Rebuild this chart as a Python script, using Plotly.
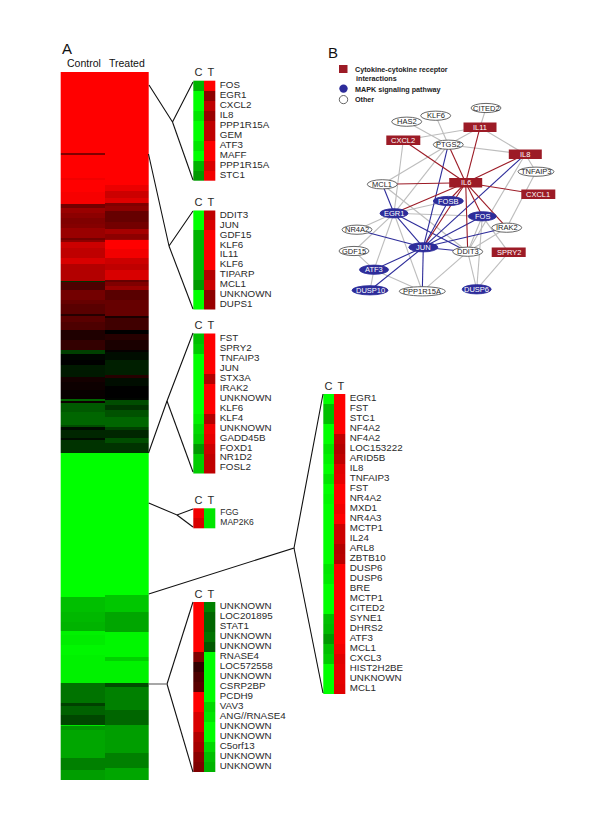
import plotly.graph_objects as go
import numpy as np

# ---------- main heat map: band end (pixel row) and log-ratio value ----------
MAIN_TOP = 72
CTRL_STOPS = [153,155,178,180,192,204,208,213,218,224,228,238,240,242,248,258,264,281,282,290,300,304,314,316,322,330,340,350,354,360,365,377,382,390,399,401,403,412,425,427,430,438,440,453,
              597,612,622,631,635,645,655,683,703,706,715,725,726,730,758,770,780]
CTRL_VALS  = [1,.5,1,.95,1,.97,.45,.6,.55,.5,.52,.6,.45,.55,.8,.75,.85,.7,-.2,.3,.45,.4,.35,.15,.35,.3,.12,.2,-.25,-.02,0,-.1,.08,.05,.03,-.4,.05,-.35,-.4,-.3,-.05,-.15,-.05,-.2,
              -1,-.75,-.72,-.7,-.95,-.93,-.97,-.95,-.45,-.25,-.38,-.28,-.9,-.6,-.65,-.5,-.62]
TRT_STOPS  = [185,191,198,203,206,211,222,229,234,239,240,249,258,264,270,280,282,286,290,300,316,318,330,334,340,350,352,360,375,378,386,398,400,405,410,417,427,430,438,443,453,
              595,612,632,657,661,683,687,700,710,725,753,768,780]
TRT_VALS   = [1,.92,.8,.88,.5,.55,.4,.45,.65,.55,.6,1,.95,.8,.75,.85,.4,.5,.6,.35,.4,.1,.25,0,.15,.1,.02,-.05,-.12,.15,-.05,0,-.02,-.3,-.2,-.32,-.4,-.25,-.15,-.3,-.2,
              -1,-.78,-.65,-.97,-.82,-.95,-.3,-.5,-.5,-.4,-.62,-.5,-.65]

# ---------- detail clusters ----------
G1 = ["FOS","EGR1","CXCL2","IL8","PPP1R15A","GEM","ATF3","MAFF","PPP1R15A","STC1"]
G1_C = [-.7,-1,-1,-.9,-1,-1,-.9,-1,-.7,-.6]
G1_T = [1,.55,.75,.6,.75,.75,1,1,.85,.95]
G2 = ["DDIT3","JUN","GDF15","KLF6","IL11","KLF6","TIPARP","MCL1","UNKNOWN","DUPS1"]
G2_C = [-1,-1,-.7,-.7,-.72,-.7,-.7,-.6,-1,-1]
G2_T = [.75,.85,1,1,1,1,.7,.8,.55,.6]
G3 = ["FST","SPRY2","TNFAIP3","JUN","STX3A","IRAK2","UNKNOWN","KLF6","KLF4","UNKNOWN","GADD45B","FOXD1","NR1D2","FOSL2"]
G3_C = [-.75,-.8,-1,-1,-1,-1,-1,-1,-.95,-.85,-.8,-.6,-.8,-.8]
G3_T = [1,1,1,1,.7,1,1,1,.7,.95,.9,.8,.75,.75]
G4 = ["FGG","MAP2K6"]
G4_C = [.95,.85]
G4_T = [-.9,-.9]
G5 = ["UNKNOWN","LOC201895","STAT1","UNKNOWN","UNKNOWN","RNASE4","LOC572558","UNKNOWN","CSRP2BP","PCDH9","VAV3","ANG//RNASE4","UNKNOWN","UNKNOWN","C5orf13","UNKNOWN","UNKNOWN"]
G5_C = [1,1,1,1,1,.5,.2,.3,.35,1,1,.85,.85,.7,.65,.55,.5]
G5_T = [-.5,-.4,-.4,-.45,-.35,-1,-1,-1,-1,-1,-.85,-.9,-1,-1,-.85,-.75,-.7]
G6 = ["EGR1","FST","STC1","NF4A2","NF4A2","LOC153222","ARID5B","IL8","TNFAIP3","FST","NR4A2","MXD1","NR4A3","MCTP1","IL24","ARL8","ZBTB10","DUSP6","DUSP6","BRE","MCTP1","CITED2","SYNE1","DHRS2","ATF3","MCL1","CXCL3","HIST2H2BE","UNKNOWN","MCL1"]
G6_C = [-1,-.75,-.75,-1,-1,-.9,-.95,-1,-.9,-1,-.97,-1,-1,-1,-1,-1,-1,-.9,-.92,-1,-1,-1,-.75,-.72,-.6,-.75,-.8,-1,-1,-1]
G6_T = [1,1,1,1,.75,.7,.75,.88,.9,1,1,.95,1,.8,.8,.7,.72,1,1,1,1,1,1,1,1,.95,.88,.9,.9,.88]

CLUSTERS = [  # genes, control, treated, left, top, bottom
    (G1,G1_C,G1_T,193.3,80.7,180.7),
    (G2,G2_C,G2_T,193.3,210.5,309.5),
    (G3,G3_C,G3_T,193.3,333.5,473),
    (G4,G4_C,G4_T,193.3,508.3,528.3),
    (G5,G5_C,G5_T,193.3,602,772),
    (G6,G6_C,G6_T,323.3,394,693.5),
]
BRACKETS = [
    [(149,85),(172.5,122),(193,82)], [(172.5,122),(193,180)],
    [(148.5,154),(169,246),(193,211)], [(169,246),(193,309)],
    [(148.5,453),(167,401),(193,333)], [(167,401),(193,472)],
    [(148.7,503),(177,515),(193,509)], [(177,515),(193,527)],
    [(148.7,594),(294,548),(323,394)], [(294,548),(323,693)],
    [(167,684),(193,602)], [(167,684),(193,772)],
]

# ---------- network ----------
NODES = {  # name: (x, y, half-width, kind)
 "CITED2":(486,108,15,"o"),"KLF6":(435.7,115.7,15,"o"),"HAS2":(406.7,121.7,15,"o"),"IL11":(480,127.3,16.5,"r"),
 "CXCL2":(403.3,140.3,17,"r"),"PTGS2":(448.3,144.7,15,"o"),"IL8":(525.3,154.3,16.5,"r"),"TNFAIP3":(536,171.7,18,"o"),
 "MCL1":(382.3,184.3,15,"o"),"IL6":(465.7,182.7,16.5,"r"),"CXCL1":(538.3,194.3,17,"r"),"FOSB":(448.3,201,15,"b"),
 "EGR1":(394,213.3,14,"b"),"FOS":(482.3,216.3,14,"b"),"NR4A2":(357,229.7,15,"o"),"IRAK2":(506.7,227.7,15,"o"),
 "JUN":(423.3,247.3,14.5,"b"),"GDF15":(354,251,15,"o"),"DDIT3":(467.7,251.7,15,"o"),"SPRY2":(508.7,252.3,17,"r"),
 "ATF3":(374,269.7,14.5,"b"),"DUSP10":(370,290.3,18,"b"),"PPP1R15A":(422.3,291.3,23,"o"),"DUSP6":(476.7,289.3,14.5,"b"),
}
GRAY_EDGES = [("CITED2","IL11"),("KLF6","PTGS2"),("HAS2","PTGS2"),("CXCL2","IL11"),("IL11","IL8"),("PTGS2","IL8"),("PTGS2","IL11"),
 ("CXCL2","EGR1"),("PTGS2","MCL1"),("PTGS2","EGR1"),("IL8","TNFAIP3"),("TNFAIP3","IRAK2"),("SPRY2","DUSP6"),("FOS","DUSP6"),
 ("FOS","SPRY2"),("DDIT3","DUSP6"),("IRAK2","DDIT3"),("FOS","DDIT3"),("MCL1","DDIT3"),("IL8","DDIT3"),("EGR1","FOS"),
 ("EGR1","NR4A2"),("EGR1","GDF15"),("EGR1","ATF3"),("EGR1","PPP1R15A"),("GDF15","ATF3"),("ATF3","DUSP10"),("ATF3","PPP1R15A"),
 ("DDIT3","PPP1R15A"),("EGR1","FOSB")]
BLUE_EDGES = [("PTGS2","JUN"),("MCL1","EGR1"),("FOSB","JUN"),("EGR1","JUN"),("EGR1","DDIT3"),("NR4A2","JUN"),("JUN","FOS"),("JUN","IRAK2"),
 ("JUN","DDIT3"),("JUN","ATF3"),("JUN","DUSP10"),("JUN","PPP1R15A"),("JUN","IL8")]
RED_EDGES = [("CXCL2","IL6"),("IL11","IL6"),("PTGS2","IL6"),("IL8","IL6"),("MCL1","IL6"),("IL6","CXCL1"),("IL6","EGR1"),("IL6","FOSB"),
 ("IL6","FOS"),("IL6","IRAK2"),("IL6","DDIT3"),("IL6","JUN")]

RED, BLUE, GRAY = "#9C1B26", "#2D2C9A", "#BDBDBD"
FONT = "Liberation Sans, Arial, sans-serif"
SCALE = [[0,"#00ff00"],[.5,"#000000"],[1,"#ff0000"]]
TXT = "#2a2a2a"

fig = go.Figure()

def heat(z, x0, dx, y0, dy):
    fig.add_trace(go.Heatmap(z=z, x0=x0+dx/2, dx=dx, y0=y0+dy/2, dy=dy, colorscale=SCALE, zmin=-1, zmax=1,
                             showscale=False, hoverinfo="skip"))

def expand(stops, vals):
    counts = np.diff([MAIN_TOP]+stops)
    return np.repeat(vals, counts)

heat(np.column_stack([expand(CTRL_STOPS, CTRL_VALS), expand(TRT_STOPS, TRT_VALS)]), 60.7, 44, MAIN_TOP, 1)

for genes, c, t, left, top, bottom in CLUSTERS:
    h = (bottom-top)/len(genes)
    heat(np.array([c,t]).T, left, 10.85, top, h)
    ys = [top+h*(i+.5) for i in range(len(genes))]
    small = genes is G4
    fig.add_trace(go.Scatter(x=[left+(26.5 if not small else 27)]*len(genes), y=ys, text=genes, mode="text", textposition="middle right",
                             textfont=dict(family=FONT, size=8.5 if small else 9.8, color=TXT), hoverinfo="skip"))
    fig.add_trace(go.Scatter(x=[left+5.2,left+17.5], y=[top-7,top-7], text=["C","T"], mode="text", textposition="middle center",
                             textfont=dict(family=FONT, size=11, color=TXT), hoverinfo="skip"))

for b in BRACKETS:
    fig.add_trace(go.Scatter(x=[p[0] for p in b], y=[p[1] for p in b], mode="lines", line=dict(color="#111111", width=1.1), hoverinfo="skip"))
fig.add_trace(go.Scatter(x=[149,167], y=[684,684], mode="lines", line=dict(color="#777777", width=1.3), hoverinfo="skip"))

for edges, col in ((GRAY_EDGES,GRAY),(BLUE_EDGES,BLUE),(RED_EDGES,RED)):
    xs, ys = [], []
    for a,b in edges:
        xs += [NODES[a][0],NODES[b][0],None]; ys += [NODES[a][1],NODES[b][1],None]
    fig.add_trace(go.Scatter(x=xs, y=ys, mode="lines", line=dict(color=col, width=1.1), hoverinfo="skip"))

shapes, annos = [], []
for name,(x,y,w,k) in NODES.items():
    if k=="r":
        shapes.append(dict(type="rect", x0=x-w, x1=x+w, y0=y-4.7, y1=y+4.7, fillcolor=RED, line=dict(width=0)))
    else:
        shapes.append(dict(type="circle", x0=x-w, x1=x+w, y0=y-4.6, y1=y+4.6,
                           fillcolor=BLUE if k=="b" else "white",
                           line=dict(color=BLUE if k=="b" else "#555555", width=.9)))
    annos.append(dict(x=x, y=y, text=name, showarrow=False, xanchor="center", yanchor="middle",
                      font=dict(family=FONT, size=7.5, color="white" if k!="o" else "#222222")))

# legend of panel B
shapes += [dict(type="rect", x0=339, x1=347.5, y0=65, y1=73, fillcolor=RED, line=dict(width=0)),
           dict(type="circle", x0=339.3, x1=347.7, y0=84.5, y1=92.7, fillcolor=BLUE, line=dict(width=0)),
           dict(type="circle", x0=339.3, x1=347.7, y0=95.5, y1=103.7, fillcolor="white", line=dict(color="#555555", width=.9))]
for x,y,t in [(352.5,69.8,"Cytokine-cytokine receptor"),(353.5,78.5,"interactions"),(352.5,89.5,"MAPK signaling pathway"),(352.5,99.8,"Other")]:
    annos.append(dict(x=x, y=y, text="<b>%s</b>"%t, showarrow=False, xanchor="left", yanchor="middle",
                      font=dict(family=FONT, size=7.2, color="#222222")))
for x,y,t,s in [(67,48,"A",15),(333,52,"B",15),(84,63,"Control",10.5),(127,63,"Treated",10.5)]:
    annos.append(dict(x=x, y=y, text=t, showarrow=False, xanchor="center", yanchor="middle",
                      font=dict(family=FONT, size=s, color="#111111")))

fig.update_layout(width=600, height=825, margin=dict(l=0,r=0,t=0,b=0), showlegend=False,
                  paper_bgcolor="white", plot_bgcolor="white", shapes=shapes, annotations=annos,
                  xaxis=dict(range=[0,600], visible=False, fixedrange=True),
                  yaxis=dict(range=[825,0], visible=False, fixedrange=True))
fig.write_html("out.html", post_script="document.body.style.margin='0';", config=dict(displayModeBar=False))
